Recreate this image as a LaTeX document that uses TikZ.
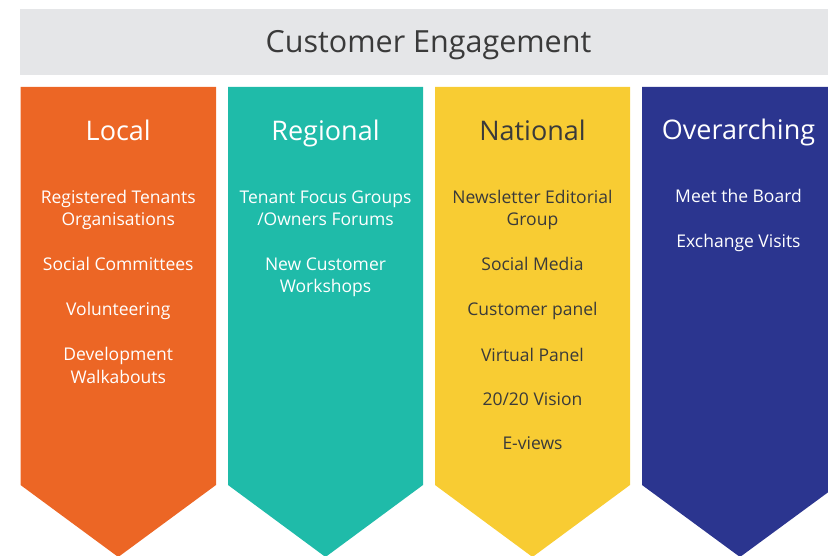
\documentclass[tikz,border=0pt]{standalone}
\usepackage{fontspec}
\setmainfont{Open Sans}
\definecolor{bargrey}{HTML}{E5E6E8}
\definecolor{textgrey}{HTML}{3A3A3A}
\definecolor{localorange}{HTML}{EC6625}
\definecolor{regionalteal}{HTML}{1FBBA9}
\definecolor{nationalyellow}{HTML}{F8CC33}
\definecolor{overnavy}{HTML}{2B358F}
\tikzset{
  titletext/.style={anchor=base, text=textgrey, font=\fontsize{30.5}{36}\selectfont},
  heading/.style={anchor=base, font=\fontsize{27}{32}\selectfont},
  item/.style={anchor=base, align=center, font=\fontsize{17.5}{22.7}\selectfont},
}
\begin{document}
\begin{tikzpicture}[x=1pt,y=-1pt]
  \useasboundingbox (0,0) rectangle (828,556);
  \clip (0,0) rectangle (828,556);
  % title bar
  \fill[bargrey] (20,9) rectangle (828,75);
  \node[titletext] (title) at (428.5,52.5) {Customer Engagement};
  % the four arrows
  \fill[localorange] (20.5,87) -- (216,87) -- (216,485) -- (118.25,557) -- (20.5,485) -- cycle;
  \fill[regionalteal] (228,87) -- (423,87) -- (423,485) -- (325.5,557) -- (228,485) -- cycle;
  \fill[nationalyellow] (435,87) -- (630,87) -- (630,485) -- (532.5,557) -- (435,485) -- cycle;
  \fill[overnavy] (642,87) -- (838,87) -- (838,485) -- (740,557) -- (642,485) -- cycle;
  % local (two-line items sit on their last line)
  \begin{scope}[text=white]
    \draw
      (118.25,140.5) node[heading] (local) {Local}
      (118.25,226) node[item] (local1) {Registered Tenants\\Organisations}
      (118.25,271) node[item] (local2) {Social Committees}
      (118.25,316) node[item] (local3) {Volunteering}
      (118.25,383) node[item] (local4) {Development\\Walkabouts};
  \end{scope}
  % regional
  \begin{scope}[text=white]
    \draw
      (325.5,140.5) node[heading] (regional) {Regional}
      (325.5,226) node[item] (regional1) {Tenant Focus Groups\\/Owners Forums}
      (325.5,293) node[item] (regional2) {New Customer\\Workshops};
  \end{scope}
  % national
  \begin{scope}[text=textgrey]
    \draw
      (532.5,140.5) node[heading] (national) {National}
      (532.5,226) node[item] (national1) {Newsletter Editorial\\Group}
      (532.5,271) node[item] (national2) {Social Media}
      (532.5,316) node[item] (national3) {Customer panel}
      (532.5,361) node[item] (national4) {Virtual Panel}
      (532.5,405) node[item] (national5) {20/20 Vision}
      (532.5,449) node[item] (national6) {E-views};
  \end{scope}
  % overarching
  \begin{scope}[text=white]
    \draw
      (738.5,140) node[heading] (over) {Overarching}
      (738.5,203) node[item] (over1) {Meet the Board}
      (738.5,248) node[item] (over2) {Exchange Visits};
  \end{scope}
\end{tikzpicture}
\end{document}
